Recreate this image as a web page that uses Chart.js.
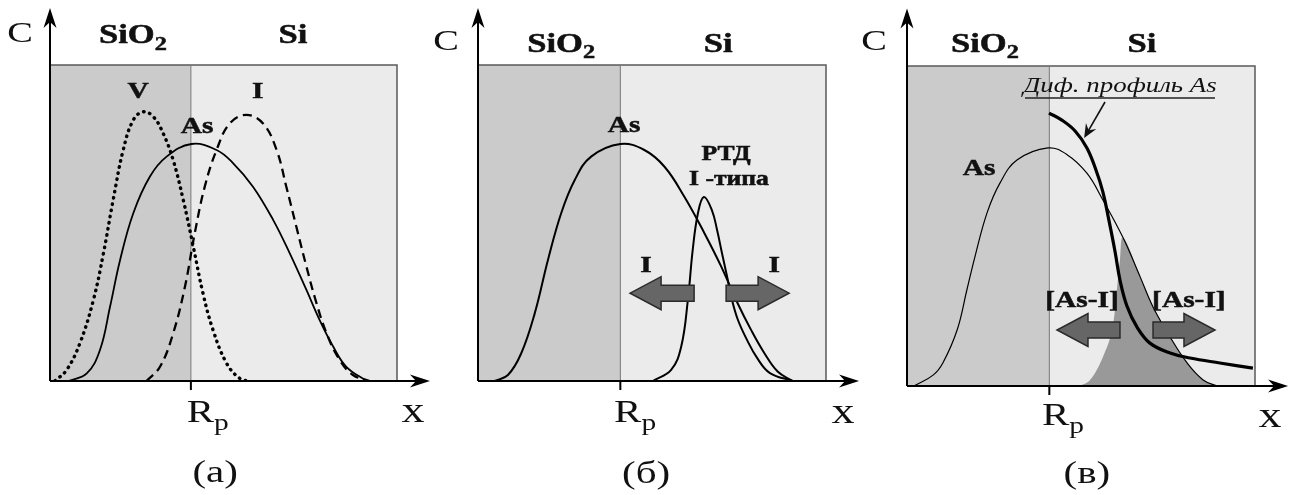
<!DOCTYPE html>
<html>
<head>
<meta charset="utf-8">
<script src="https://cdn.jsdelivr.net/npm/chart.js@4.4.1/dist/chart.umd.min.js"></script>
<style>
  body { margin: 0; background: #fff; }
  .wrap { position: relative; width: 1293px; height: 495px; }
  canvas { position: absolute; top: 0; }
</style>
</head>
<body>
<div class="wrap">
  <canvas id="chartA" width="431" height="495" style="left:0"></canvas>
  <canvas id="chartB" width="431" height="495" style="left:431px"></canvas>
  <canvas id="chartC" width="431" height="495" style="left:862px"></canvas>
</div>
<script>
// depth x and concentration C in relative units (0..100 across the frame)

// (a) As, vacancies V, interstitials I
const asAX = [5.3, 10.6, 14.4, 17.3, 20.2, 24.0, 28.8, 33.6, 40.8, 48.0, 52.8, 58.5, 64.3, 69.1, 73.9, 77.7, 81.6, 85.4, 91.2];
const asAY = [0, 2.4, 9.8, 23.5, 38.3, 53.1, 64.7, 71.0, 75.0, 73.1, 68.9, 61.5, 51.0, 40.4, 28.8, 19.3, 10.9, 4.5, 0];
const vacAX = [1.4, 4.8, 8.6, 12.5, 15.4, 18.2, 21.1, 24.0, 26.9, 29.8, 32.6, 35.5, 38.4, 41.3, 44.1, 47.0, 50.9, 54.7, 57.6];
const vacAY = [0, 3.5, 11.9, 25.6, 40.4, 57.3, 73.1, 82.6, 85.2, 83.6, 78.4, 69.9, 57.3, 42.5, 27.7, 16.1, 5.6, 0.8, 0];
const intAX = [27.8, 31.7, 35.5, 38.9, 41.7, 44.6, 48.0, 51.8, 56.6, 61.4, 65.3, 68.1, 71.0, 73.9, 76.8, 79.7, 83.5, 87.3, 92.1];
const intAY = [0, 4.5, 15.1, 29.9, 46.7, 61.5, 73.1, 81.5, 84.2, 81.5, 73.1, 61.5, 48.8, 36.2, 24.6, 15.1, 6.6, 1.9, 0];

// (б) As and I-type RTD
const asBX = [4.8, 8.6, 12.4, 16.3, 20.1, 23.9, 27.8, 32.5, 40.9, 47.8, 53.6, 59.3, 65.1, 69.9, 74.6, 78.5, 82.3, 86.1, 90.4];
const asBY = [0, 1.9, 8.7, 21.4, 38.3, 53.1, 63.6, 71.0, 75.0, 73.1, 67.8, 58.3, 46.7, 36.2, 24.6, 16.1, 8.8, 3.0, 0];
const rtdBX = [50.2, 55.5, 58.4, 60.3, 61.7, 63.2, 64.9, 67.2, 68.7, 70.1, 71.6, 73.0, 74.7, 77.3, 80.2, 83.9, 90.5];
const rtdBY = [0, 3.5, 10.9, 25.6, 41.5, 53.1, 58.2, 54.1, 47.8, 40.5, 32.9, 25.6, 19.3, 13.0, 7.3, 2.5, 0];

// (в) As, diffusion profile As, [As-I] complexes
const asCX = [2.0, 7.5, 10.3, 14.4, 17.2, 19.5, 23.0, 26.7, 31.6, 40.5, 46.0, 51.7, 56.3, 62.1, 67.0, 70.7, 75.6, 80.5, 85.1, 89.1];
const asCY = [0, 3.4, 7.2, 17.5, 30.0, 40.3, 54.1, 63.4, 70.6, 74.4, 72.3, 66.5, 58.1, 46.3, 34.1, 24.7, 15.3, 7.2, 1.9, 0];
const difCX = [40.8, 44.5, 48.3, 51.7, 54.3, 56.3, 58.0, 59.8, 61.2, 63.2, 66.1, 69.8, 75.6, 81.3, 89.9, 99.4];
const difCY = [85.3, 83.1, 79.7, 74.4, 67.5, 60.6, 51.9, 41.9, 33.1, 25.0, 18.4, 13.4, 10.3, 8.75, 7.2, 5.6];
const asiCX = [49.7, 52.6, 56.3, 58.9, 60.3, 61.2, 62.1, 67.0, 70.7, 75.6, 80.5, 85.1, 89.1];
const asiCY = [0, 1.9, 9.1, 17.5, 30.0, 39.4, 46.3, 34.1, 24.7, 15.3, 7.2, 1.9, 0];

// SiO2/Si interface (= Rp) for each panel
const interfaceX = [40.6, 40.9, 40.9];

const serif = '"Liberation Serif", "Times New Roman", Tinos, Times, serif';
const STRETCH = 1.28;

function pts(xs, ys) {
  return xs.map((x, i) => ({ x: x, y: ys[i] }));
}

function stretchedText(ctx, text, x, y, font, heavy) {
  ctx.save();
  ctx.font = font;
  const w = ctx.measureText(text).width * STRETCH;
  ctx.translate(x, y);
  ctx.scale(STRETCH, 1);
  ctx.textAlign = 'left';
  ctx.textBaseline = 'alphabetic';
  ctx.fillText(text, 0, 0);
  if (heavy) {
    ctx.strokeStyle = ctx.fillStyle;
    ctx.lineWidth = 0.5;
    ctx.strokeText(text, 0, 0);
  }
  ctx.restore();
  return w;
}

function textWidth(ctx, text, font) {
  ctx.save();
  ctx.font = font;
  const w = ctx.measureText(text).width * STRETCH;
  ctx.restore();
  return w;
}

function fontOf(style, size) {
  return (style ? style + ' ' : '') + size + 'px ' + serif;
}

// label with optional subscript
function drawLabel(ctx, lb, px, py) {
  const font = fontOf(lb.style, lb.size);
  const subFont = fontOf(lb.style, Math.round(lb.size * 0.72));
  const heavy = lb.style === 'bold';
  let w = textWidth(ctx, lb.t, font);
  if (lb.sub) w += textWidth(ctx, lb.sub, subFont);
  const x0 = lb.align === 'left' ? px : px - w / 2;
  ctx.fillStyle = '#111';
  const w1 = stretchedText(ctx, lb.t, x0, py, font, heavy);
  if (lb.sub) stretchedText(ctx, lb.sub, x0 + w1, py + lb.size * 0.25, subFont, heavy);
  if (lb.underline) {
    ctx.save();
    ctx.strokeStyle = '#222';
    ctx.lineWidth = 1.5;
    ctx.beginPath();
    ctx.moveTo(lb.underline[0], py + 6);
    ctx.lineTo(lb.underline[1], py + 6);
    ctx.stroke();
    ctx.restore();
  }
}

function axisArrow(ctx, x1, y1, x2, y2) {
  const ang = Math.atan2(y2 - y1, x2 - x1);
  ctx.save();
  ctx.strokeStyle = '#000';
  ctx.fillStyle = '#000';
  ctx.lineWidth = 2;
  ctx.beginPath();
  ctx.moveTo(x1, y1);
  ctx.lineTo(x2 - 8 * Math.cos(ang), y2 - 8 * Math.sin(ang));
  ctx.stroke();
  ctx.translate(x2, y2);
  ctx.rotate(ang);
  ctx.beginPath();
  ctx.moveTo(0, 0);
  ctx.lineTo(-20, -6.5);
  ctx.lineTo(-14, 0);
  ctx.lineTo(-20, 6.5);
  ctx.closePath();
  ctx.fill();
  ctx.restore();
}

function blockArrow(ctx, xTail, xTip, y) {
  const dir = xTip > xTail ? 1 : -1;
  const head = 31, hh = 16.5, bh = 8;
  const xb = xTip - dir * head;
  ctx.save();
  ctx.fillStyle = '#666';
  ctx.strokeStyle = '#2a2a2a';
  ctx.lineWidth = 1.5;
  ctx.beginPath();
  ctx.moveTo(xTail, y - bh);
  ctx.lineTo(xb, y - bh);
  ctx.lineTo(xb, y - hh);
  ctx.lineTo(xTip, y);
  ctx.lineTo(xb, y + hh);
  ctx.lineTo(xb, y + bh);
  ctx.lineTo(xTail, y + bh);
  ctx.closePath();
  ctx.fill();
  ctx.stroke();
  ctx.restore();
}

function pointer(ctx, x1, y1, x2, y2) {
  const ang = Math.atan2(y2 - y1, x2 - x1);
  ctx.save();
  ctx.strokeStyle = '#111';
  ctx.fillStyle = '#111';
  ctx.lineWidth = 1.6;
  ctx.beginPath();
  ctx.moveTo(x1, y1);
  ctx.lineTo(x2 - 6 * Math.cos(ang), y2 - 6 * Math.sin(ang));
  ctx.stroke();
  ctx.translate(x2, y2);
  ctx.rotate(ang);
  ctx.beginPath();
  ctx.moveTo(0, 0);
  ctx.lineTo(-14, -6);
  ctx.lineTo(-9, 0);
  ctx.lineTo(-14, 6);
  ctx.closePath();
  ctx.fill();
  ctx.restore();
}

const decor = {
  id: 'decor',
  beforeDatasetsDraw(chart, args, opts) {
    const { ctx, chartArea: a, scales: { x } } = chart;
    const dx = x.getPixelForValue(opts.iface);
    ctx.save();
    ctx.fillStyle = '#cbcbcb';
    ctx.fillRect(a.left, a.top, dx - a.left, a.bottom - a.top);
    ctx.fillStyle = '#ebebeb';
    ctx.fillRect(dx, a.top, a.right - dx, a.bottom - a.top);
    ctx.strokeStyle = '#5a5a5a';
    ctx.lineWidth = 1.5;
    ctx.beginPath();
    ctx.moveTo(a.left, a.top);
    ctx.lineTo(a.right, a.top);
    ctx.lineTo(a.right, a.bottom);
    ctx.stroke();
    ctx.strokeStyle = '#777';
    ctx.lineWidth = 1;
    ctx.beginPath();
    ctx.moveTo(dx, a.top);
    ctx.lineTo(dx, a.bottom);
    ctx.stroke();
    ctx.restore();
  },
  afterDatasetsDraw(chart, args, opts) {
    const { ctx, chartArea: a, scales: { x, y } } = chart;
    const dx = x.getPixelForValue(opts.iface);
    // axes
    axisArrow(ctx, a.left, a.bottom, a.left, y.getPixelForValue(118));
    axisArrow(ctx, a.left, a.bottom, x.getPixelForValue(109.5), a.bottom);
    // Rp tick
    ctx.save();
    ctx.strokeStyle = '#000';
    ctx.lineWidth = 2;
    ctx.beginPath();
    ctx.moveTo(dx, a.bottom);
    ctx.lineTo(dx, a.bottom + 9);
    ctx.stroke();
    ctx.restore();
    (opts.arrows || []).forEach(ar => {
      blockArrow(ctx, x.getPixelForValue(ar[0]), x.getPixelForValue(ar[1]), y.getPixelForValue(ar[2]));
    });
    if (opts.pointer) {
      const p = opts.pointer;
      pointer(ctx, x.getPixelForValue(p[0]), y.getPixelForValue(p[1]), x.getPixelForValue(p[2]), y.getPixelForValue(p[3]));
    }
    opts.labels.forEach(lb => {
      const l = Object.assign({}, lb);
      if (lb.underline) l.underline = lb.underline.map(v => x.getPixelForValue(v));
      drawLabel(ctx, l, x.getPixelForValue(lb.x), y.getPixelForValue(lb.y));
    });
  }
};

function commonLabels(cx, sx, six, topY, rpx, rpy, xx, xy, capx, capy, cap) {
  return [
    { t: 'C', x: cx, y: topY, size: 30 },
    { t: 'SiO', sub: '2', x: sx, y: topY - 0.5, size: 27, style: 'bold' },
    { t: 'Si', x: six, y: topY - 0.5, size: 27, style: 'bold' },
    { t: 'R', sub: 'p', x: rpx, y: rpy, size: 32, align: 'left' },
    { t: 'x', x: xx, y: xy, size: 36 },
    { t: cap, x: capx, y: capy, size: 32 }
  ];
}

function makeChart(id, pad, datasets, decorOpts) {
  return new Chart(document.getElementById(id), {
    type: 'line',
    data: { datasets: datasets },
    options: {
      responsive: false,
      animation: false,
      devicePixelRatio: 1,
      layout: { padding: pad },
      elements: { point: { radius: 0 } },
      scales: {
        x: { type: 'linear', min: 0, max: 100, display: false },
        y: { type: 'linear', min: 0, max: 100, display: false }
      },
      plugins: {
        legend: { display: false },
        tooltip: { enabled: false },
        decor: decorOpts
      }
    },
    plugins: [decor]
  });
}

function curve(label, xs, ys, extra) {
  return Object.assign({
    label: label,
    data: pts(xs, ys),
    borderColor: '#000',
    borderWidth: 2,
    fill: false,
    tension: 0.4
  }, extra || {});
}

// (a)
makeChart('chartA', { left: 50, top: 65, right: 34, bottom: 114 }, [
  curve('As', asAX, asAY, { borderWidth: 1.8 }),
  curve('I', intAX, intAY, { borderWidth: 2.3, borderDash: [9, 5.5] }),
  curve('V', vacAX, vacAY, { borderWidth: 3.4, borderDash: [0.5, 5.8], borderCapStyle: 'round' })
], {
  iface: interfaceX[0],
  labels: [
    { t: 'V', x: 25.4, y: 89.6, size: 23, style: 'bold' },
    { t: 'I', x: 59.9, y: 89.6, size: 23, style: 'bold' },
    { t: 'As', x: 42.4, y: 78.5, size: 23, style: 'bold' }
  ].concat(commonLabels(-8.6, 23.9, 70.0, 107.4, 39.4, -12.9, 104.6, -12.9, 47.6, -32.0, '(a)'))
});

// (б)
makeChart('chartB', { left: 47, top: 65, right: 36, bottom: 114 }, [
  curve('As', asBX, asBY, { borderWidth: 2 }),
  curve('РТД', rtdBX, rtdBY, { borderWidth: 2 })
], {
  iface: interfaceX[1],
  arrows: [[62.1, 43.7, 27.8], [71.3, 89.4, 27.8]],
  labels: [
    { t: 'As', x: 42.0, y: 78.8, size: 23, style: 'bold' },
    { t: 'РТД', x: 71.3, y: 69.9, size: 20, style: 'bold' },
    { t: 'I -типа', x: 72.1, y: 62.0, size: 20, style: 'bold' },
    { t: 'I', x: 48.3, y: 34.5, size: 23, style: 'bold' },
    { t: 'I', x: 85.1, y: 34.5, size: 23, style: 'bold' }
  ].concat(commonLabels(-9.2, 23.9, 69.0, 104.7, 39.1, -13.0, 104.9, -13.3, 48.3, -32.3, '(б)'))
});

// (в)
makeChart('chartC', { left: 45, top: 66, right: 38, bottom: 109 }, [
  curve('Диф. профиль As', difCX, difCY, { borderWidth: 3.2 }),
  curve('As', asCX, asCY, { borderWidth: 1.2 }),
  curve('[As-I]', asiCX, asiCY, { borderWidth: 0, fill: 'origin', backgroundColor: '#999' })
], {
  iface: interfaceX[2],
  arrows: [[61.2, 43.1, 17.5], [70.7, 88.5, 17.5]],
  pointer: [56.9, 88.75, 50.9, 77.5],
  labels: [
    { t: 'Диф. профиль As', x: 61.2, y: 91.9, size: 21, style: 'italic', underline: [33.9, 88.5] },
    { t: 'As', x: 20.7, y: 65.9, size: 23, style: 'bold' },
    { t: '[As-I]', x: 50.3, y: 24.7, size: 23, style: 'bold' },
    { t: '[As-I]', x: 81.0, y: 24.7, size: 23, style: 'bold' }
  ].concat(commonLabels(-9.5, 22.4, 67.5, 105, 38.8, -12.2, 104.3, -12.8, 51.7, -30.3, '(в)'))
});
</script>
</body>
</html>
